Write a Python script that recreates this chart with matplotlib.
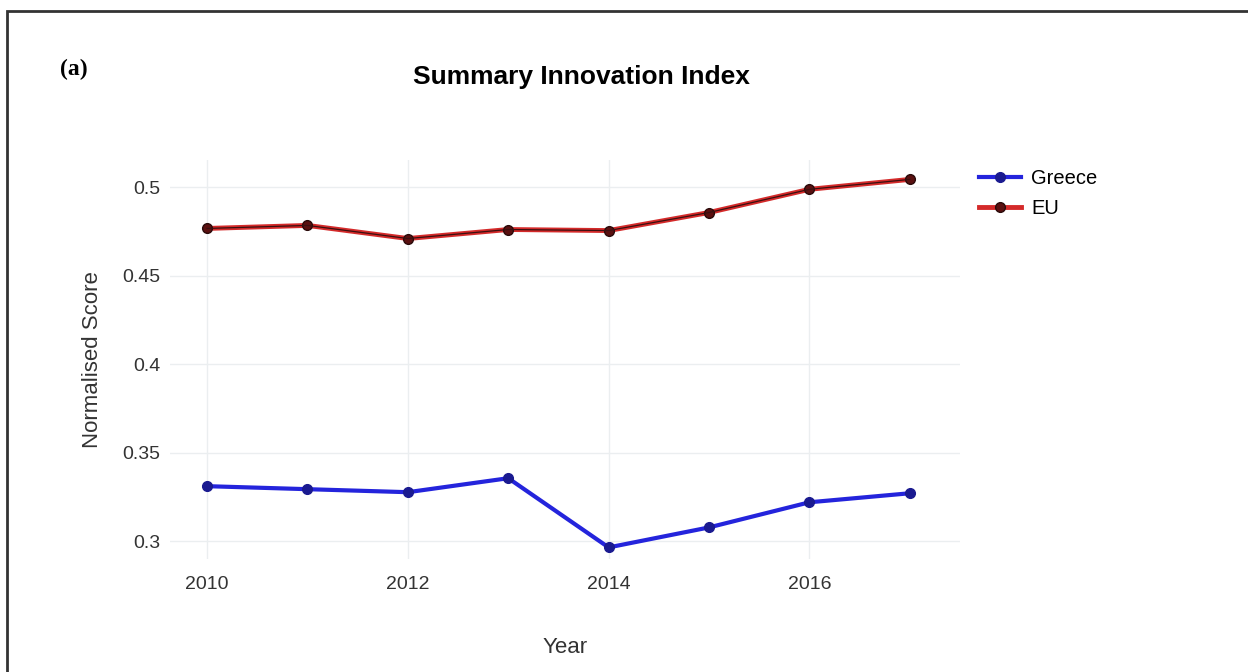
import matplotlib.pyplot as plt
from matplotlib.patches import Rectangle

years = [2010, 2011, 2012, 2013, 2014, 2015, 2016, 2017]
greece = [0.3312, 0.3295, 0.3278, 0.3357, 0.2966, 0.3079, 0.3221, 0.3272]
eu = [0.4768, 0.4785, 0.4711, 0.4762, 0.4756, 0.4858, 0.4989, 0.5045]
yticks = [0.3, 0.35, 0.4, 0.45, 0.5]
ytick_labels = ['0.3', '0.35', '0.4', '0.45', '0.5']
xticks = [2010, 2012, 2014, 2016]

plt.rcParams['font.family'] = ['Liberation Sans', 'DejaVu Sans']

fig = plt.figure(figsize=(12.48, 6.72), dpi=100)
ax = fig.add_axes([0.1362, 0.168, 0.633, 0.594])

# greece series
ax.plot(years, greece, color='#2424dc', lw=3, marker='o', ms=7,
        mfc='#1a1a90', mec='#1a1a90', label='Greece', zorder=3)
# eu series, red with a dark core
ax.plot(years, eu, color='#d42a2a', lw=3.5, marker='o', ms=7,
        mfc='#5a1010', mec='#2a0a0a', label='EU', zorder=3)
ax.plot(years, eu, color='#3a1010', lw=0.9, zorder=4)

ax.set_xlim(2009.63, 2017.5)
ax.set_ylim(0.29, 0.5155)
ax.set_xticks(xticks)
ax.set_yticks(yticks)
ax.set_yticklabels(ytick_labels)
ax.tick_params(length=0, labelsize=14, labelcolor='#333333', pad=7)
ax.tick_params(axis='x', pad=12)
ax.grid(True, color='#ebeef0', lw=1)
ax.set_axisbelow(True)
for s in ax.spines.values():
    s.set_visible(False)

ax.set_xlabel('Year', fontsize=16, color='#333333', labelpad=32)
ax.set_ylabel('Normalised Score', fontsize=16, color='#333333', labelpad=14)

fig.text(0.466, 0.886, 'Summary Innovation Index', fontsize=19, fontweight='bold',
         ha='center', va='center')
fig.text(0.059, 0.896, '(a)', fontsize=17, fontweight='bold', family='Liberation Serif',
         ha='center', va='center')

fig.legend(loc='upper left', bbox_to_anchor=(0.77, 0.776), frameon=False,
           fontsize=14.5, handlelength=2.1, labelspacing=0.55, handletextpad=0.5)

# frame around the panel
fig.patches.append(Rectangle((7 / 1248, -0.1), 1.2, 1.1 - 11 / 672,
                             transform=fig.transFigure, fill=False,
                             ec='#333333', lw=2))

fig.savefig('out.png', dpi=100, facecolor='white')
